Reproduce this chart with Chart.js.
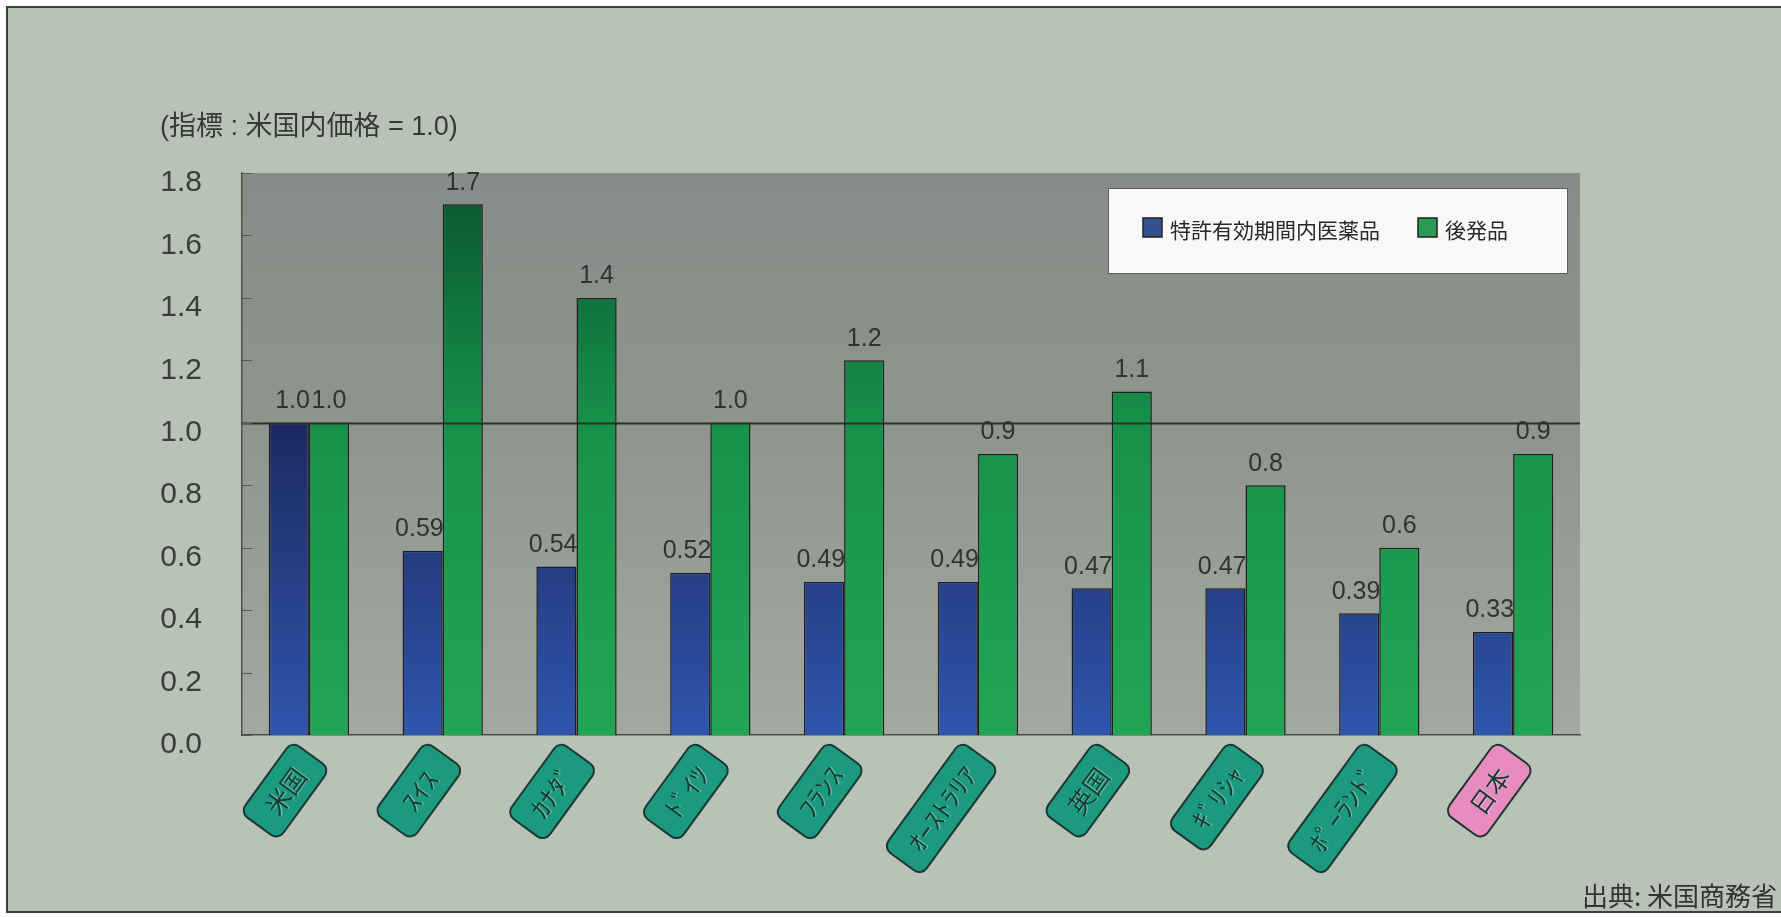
<!DOCTYPE html>
<html lang="ja">
<head>
<meta charset="UTF-8">
<title>薬価の国際比較</title>
<script src="https://cdn.jsdelivr.net/npm/chart.js"></script>
<style>
  body { margin: 0; background: #fff; }
  #wrap { position: relative; width: 1781px; height: 917px; overflow: hidden; }
  #frame { position: absolute; left: 6px; top: 6px; width: 1800px; height: 903px;
           border: 2px solid #3a403a; background: #b8c2b7; }
  canvas { position: absolute; left: 0; top: 0; }
  #unit { position: absolute; left: 160px; top: 104px; font: 27px "Liberation Sans", "Noto Sans CJK JP";
          color: #363a36; white-space: nowrap; }
  #source { position: absolute; right: 4px; top: 876px; font: 26px "Noto Sans CJK JP";
            color: #333; white-space: nowrap; }
</style>
</head>
<body>
<div id="wrap">
  <div id="frame"></div>
  <canvas id="priceChart" width="1781" height="917"></canvas>
  <div id="unit">(指標 : 米国内価格 = 1.0)</div>
  <div id="source">出典: 米国商務省</div>
</div>

<script>
// data
const countries = ['米国', 'ｽｲｽ', 'ｶﾅﾀﾞ', 'ﾄﾞｲﾂ', 'ﾌﾗﾝｽ', 'ｵｰｽﾄﾗﾘｱ', '英国', 'ｷﾞﾘｼｬ', 'ﾎﾟｰﾗﾝﾄﾞ', '日本'];
const patentDrugs = [1.0, 0.59, 0.54, 0.52, 0.49, 0.49, 0.47, 0.47, 0.39, 0.33];
const genericDrugs = [1.0, 1.7, 1.4, 1.0, 1.2, 0.9, 1.1, 0.8, 0.6, 0.9];
const seriesNames = ['特許有効期間内医薬品', '後発品'];
const yMin = 0, yMax = 1.8, yStep = 0.2;
const baseline = 1.0;

function gradient(ctx, stops, fallback) {
    const chart = ctx.chart;
    const area = chart.chartArea;
    if (!area) return fallback;
    const g = chart.ctx.createLinearGradient(0, area.top, 0, area.bottom);
    stops.forEach(s => g.addColorStop(s[0], s[1]));
    return g;
}

function fmtValue(v, twoDigits) {
    let s = String(v);
    if (s.indexOf('.') < 0) s += '.0';
    return twoDigits ? s : v.toFixed(1);
}

// gray plot background
const plotBackground = {
    id: 'plotBackground',
    beforeDraw(chart) {
        const { ctx, chartArea: a } = chart;
        const g = ctx.createLinearGradient(0, a.top, 0, a.bottom);
        g.addColorStop(0, '#878c88');
        g.addColorStop(0.45, '#8f948f');
        g.addColorStop(1, '#a3a8a2');
        ctx.save();
        ctx.fillStyle = g;
        ctx.fillRect(a.left, a.top, a.right - a.left, a.bottom - a.top);
        ctx.restore();
    }
};

// 1.0 line, inward ticks, value labels
const overlay = {
    id: 'overlay',
    afterDatasetsDraw(chart) {
        const { ctx, chartArea: a, scales } = chart;
        ctx.save();
        const yb = Math.round(scales.y.getPixelForValue(baseline)) + 0.5;
        ctx.strokeStyle = '#2a2e2a';
        ctx.lineWidth = 2;
        ctx.beginPath();
        ctx.moveTo(a.left, yb);
        ctx.lineTo(a.right, yb);
        ctx.stroke();

        ctx.strokeStyle = '#555a55';
        ctx.lineWidth = 1;
        scales.y.ticks.forEach(t => {
            const y = Math.round(scales.y.getPixelForValue(t.value)) + 0.5;
            ctx.beginPath();
            ctx.moveTo(a.left, y);
            ctx.lineTo(a.left + 10, y);
            ctx.stroke();
        });

        ctx.font = '25px "Liberation Sans"';
        ctx.fillStyle = '#303430';
        ctx.textBaseline = 'bottom';
        chart.data.datasets.forEach((ds, di) => {
            chart.getDatasetMeta(di).data.forEach((bar, i) => {
                const txt = fmtValue(ds.data[i], di === 0);
                if (di === 0) {
                    ctx.textAlign = 'right';
                    ctx.fillText(txt, bar.x + bar.width / 2 + 1, bar.y - 9);
                } else {
                    ctx.textAlign = 'center';
                    ctx.fillText(txt, bar.x, bar.y - 9);
                }
            });
        });
        ctx.restore();
    }
};

// white legend box inside the plot
const legendBox = {
    id: 'legendBox',
    afterDraw(chart) {
        const ctx = chart.ctx;
        const x = 1108, y = 188, w = 459, h = 85;
        ctx.save();
        ctx.fillStyle = '#f8f9f6';
        ctx.fillRect(x, y, w, h);
        ctx.strokeStyle = '#5b605b';
        ctx.lineWidth = 1;
        ctx.strokeRect(x + 0.5, y + 0.5, w, h);
        const offsets = [35, 310];
        const swatch = ['#34508f', '#2a9a55'];
        ctx.font = '21px "Noto Sans CJK JP"';
        ctx.textBaseline = 'middle';
        ctx.textAlign = 'left';
        chart.data.datasets.forEach((ds, i) => {
            const sx = x + offsets[i];
            ctx.fillStyle = swatch[i];
            ctx.fillRect(sx, y + 30, 19, 19);
            ctx.strokeStyle = '#222';
            ctx.lineWidth = 1.5;
            ctx.strokeRect(sx, y + 30, 19, 19);
            ctx.fillStyle = '#262926';
            ctx.fillText(ds.label, sx + 27, y + 42);
        });
        ctx.restore();
    }
};

// rotated rounded tags for the country names
const categoryTags = {
    id: 'categoryTags',
    afterDraw(chart) {
        const ctx = chart.ctx, xs = chart.scales.x, bottom = chart.chartArea.bottom;
        const ang = -54 * Math.PI / 180, H = 47;
        ctx.save();
        ctx.font = '25px "Noto Sans CJK JP"';
        chart.data.labels.forEach((lab, i) => {
            const sx = /[\uFF61-\uFF9F]/.test(lab) ? 1.12 : 1;
            const w = ctx.measureText(lab).width * sx;
            const L = Math.max(88, w + 34);
            ctx.save();
            ctx.translate(xs.getPixelForValue(i) + 2, bottom + 20);
            ctx.rotate(ang);
            ctx.beginPath();
            ctx.roundRect(-L, -H / 2, L, H, 9);
            ctx.fillStyle = lab === '日本' ? '#e88cbf' : '#1b9a80';
            ctx.fill();
            ctx.lineWidth = 2;
            ctx.strokeStyle = '#1c362f';
            ctx.stroke();
            ctx.textAlign = 'center';
            ctx.textBaseline = 'middle';
            ctx.scale(sx, 1);
            ctx.fillStyle = 'rgba(255,255,255,0.35)';
            ctx.fillText(lab, (-L / 2 + 1) / sx, 2);
            ctx.fillStyle = '#163a31';
            ctx.fillText(lab, (-L / 2) / sx, 1);
            ctx.restore();
        });
        ctx.restore();
    }
};

new Chart(document.getElementById('priceChart'), {
    type: 'bar',
    data: {
        labels: countries,
        datasets: [{
            label: seriesNames[0],
            data: patentDrugs,
            backgroundColor: c => gradient(c, [[0, '#0f183a'], [0.45, '#1d2a62'], [1, '#2f56ad']], '#25408a'),
            borderColor: '#1a1d22',
            borderWidth: 1.5,
            categoryPercentage: 0.6,
            barPercentage: 1.0
        }, {
            label: seriesNames[1],
            data: genericDrugs,
            backgroundColor: c => gradient(c, [[0, '#0a5430'], [0.45, '#17924a'], [1, '#22a656']], '#1b9a4e'),
            borderColor: '#1a221c',
            borderWidth: 1.5,
            categoryPercentage: 0.6,
            barPercentage: 1.0
        }]
    },
    options: {
        responsive: false,
        animation: false,
        layout: { padding: { left: 0, top: 173, right: 201, bottom: 182 } },
        plugins: {
            legend: { display: false },
            tooltip: { enabled: false }
        },
        scales: {
            x: {
                grid: { display: false },
                border: { display: true, color: '#4a4f4a', width: 1.5 },
                ticks: { display: false },
                afterFit: s => { s.height = 0; }
            },
            y: {
                min: yMin,
                max: yMax,
                grid: { display: false, drawTicks: false },
                border: { display: true, color: '#4a4f4a', width: 1.5 },
                ticks: {
                    stepSize: yStep,
                    padding: 40,
                    labelOffset: 10,
                    color: '#3a3d3a',
                    font: { family: 'Liberation Sans', size: 30 },
                    callback: v => Number(v).toFixed(1)
                },
                afterFit: s => { s.width = 242; }
            }
        }
    },
    plugins: [plotBackground, overlay, legendBox, categoryTags]
});
</script>
</body>
</html>
